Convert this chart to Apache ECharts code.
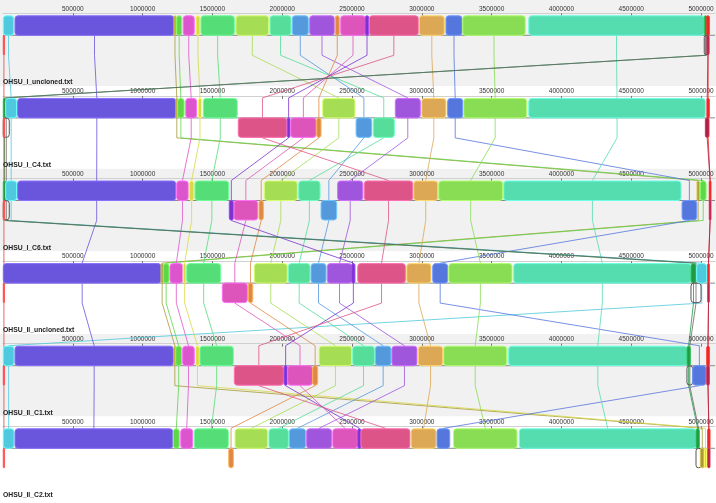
<!DOCTYPE html>
<html><head><meta charset="utf-8">
<script src="https://cdn.jsdelivr.net/npm/echarts@6/dist/echarts.min.js"></script>
<style>html,body{margin:0;padding:0;background:#fff}#c{width:716px;height:503px}</style>
</head><body><div id="c"></div>
<script>
const genomeNames = ['OHSU_I_uncloned.txt','OHSU_I_C4.txt','OHSU_I_C6.txt','OHSU_II_uncloned.txt','OHSU_II_C1.txt','OHSU_II_C2.txt'];
const tickValues = [500000,1000000,1500000,2000000,2500000,3000000,3500000,4000000,4500000,5000000];
const lcbIds = ['A','B','C','D','E','F','G','H','I','J','K','L','M','N','O','P','Q','R','S','T','U','V','W','X'];
const lcbColors = ['#4fc9dd','#6a55dd','#a89a3a','#5fd64a','#dd55cc','#d8d84a','#55dd77','#a5dd55','#55dd99','#5599dd','#a055dd','#dd8844','#dd55bb','#7a33cc','#dd5588','#dda855','#5577dd','#88dd55','#55ddb0','#229944','#ee2222','#dd4444','none','#aa2244'];

// [lcb, start, end, strand]
const g1Blocks = [['V',2000,11000,-1],['A',2000,77000,1],['B',86000,1225000,1],['C',1225000,1239000,1],['D',1244000,1280000,1],['E',1291000,1370000,1],['F',1382000,1411000,1],['G',1418000,1657000,1],['H',1669000,1903000,1],['I',1913000,2063000,1],['J',2072000,2187000,1],['K',2197000,2373000,1],['L',2380000,2409000,1],['M',2419000,2595000,1],['N',2595000,2620000,1],['O',2624000,2975000,1],['P',2982000,3161000,1],['Q',3173000,3288000,1],['R',3293000,3741000,1],['S',3766000,5023000,1],['T',5023000,5041000,1],['U',5041000,5059000,1],['W',5023000,5055000,-1],['X',5043000,5057000,-1]];
const g2Blocks = [['T',2000,19000,1],['A',19000,98000,1],['W',2000,45000,-1],['V',2000,11000,-1],['B',105000,1239000,1],['C',1239000,1251000,1],['D',1251000,1297000,1],['E',1309000,1387000,1],['F',1399000,1423000,1],['G',1435000,1678000,1],['O',1685000,2032000,-1],['N',2036000,2056000,-1],['M',2061000,2242000,-1],['L',2247000,2278000,-1],['H',2290000,2521000,1],['J',2529000,2641000,-1],['I',2652000,2803000,-1],['K',2810000,2989000,1],['P',2999000,3173000,1],['Q',3185000,3293000,1],['R',3300000,3751000,1],['S',3766000,5031000,1],['U',5043000,5059000,1],['X',5031000,5057000,-1]];
const g3Blocks = [['T',2000,19000,1],['A',19000,98000,1],['W',2000,45000,-1],['V',2000,11000,-1],['B',105000,1237000,1],['E',1244000,1327000,1],['F',1334000,1368000,1],['G',1375000,1617000,1],['N',1621000,1650000,-1],['M',1655000,1824000,-1],['L',1834000,1865000,-1],['H',1872000,2108000,1],['I',2118000,2271000,1],['J',2278000,2390000,-1],['K',2397000,2577000,1],['O',2588000,2935000,1],['P',2942000,3114000,1],['R',3121000,3579000,1],['S',3587000,4857000,1],['Q',4864000,4969000,-1],['C',4971000,4988000,1],['D',4995000,5036000,1],['U',5059000,5071000,1],['X',5059000,5071000,-1]];
const g4Blocks = [['V',2000,11000,-1],['B',2000,1132000,1],['C',1132000,1148000,1],['D',1148000,1189000,1],['E',1196000,1287000,1],['F',1291000,1311000,1],['G',1316000,1559000,1],['M',1571000,1750000,-1],['L',1757000,1789000,-1],['H',1800000,2036000,1],['I',2044000,2199000,1],['J',2206000,2314000,1],['K',2323000,2498000,1],['N',2498000,2521000,1],['O',2541000,2882000,1],['P',2892000,3066000,1],['Q',3078000,3185000,1],['R',3193000,3646000,1],['S',3658000,4928000,1],['T',4928000,4964000,1],['W',4928000,5000000,-1],['A',4969000,5041000,1],['U',5048000,5059000,1],['X',5048000,5059000,-1]];
const g5Blocks = [['V',2000,11000,-1],['A',2000,79000,1],['B',86000,1220000,1],['C',1225000,1237000,1],['D',1237000,1280000,1],['E',1287000,1370000,1],['F',1380000,1406000,1],['G',1411000,1650000,1],['O',1657000,2008000,-1],['N',2013000,2036000,-1],['M',2039000,2216000,-1],['L',2218000,2254000,-1],['H',2264000,2498000,1],['I',2505000,2660000,1],['J',2667000,2779000,1],['K',2786000,2965000,1],['P',2975000,3150000,1],['R',3157000,3608000,1],['S',3622000,4899000,1],['T',4899000,4923000,1],['W',4899000,4940000,-1],['Q',4940000,5036000,-1],['U',5041000,5059000,1],['X',5041000,5059000,-1]];
const g6Blocks = [['V',2000,11000,-1],['A',2000,79000,1],['B',86000,1216000,1],['D',1220000,1263000,1],['E',1273000,1359000,1],['G',1370000,1614000,1],['L',1617000,1650000,-1],['H',1662000,1896000,1],['I',1905000,2044000,1],['J',2051000,2168000,1],['K',2175000,2354000,1],['M',2362000,2538000,1],['N',2541000,2564000,1],['O',2564000,2915000,1],['P',2923000,3102000,1],['Q',3109000,3200000,1],['R',3228000,3682000,1],['S',3698000,4964000,1],['T',4964000,4988000,1],['W',4964000,5000000,-1],['C',4995000,5023000,-1],['F',5023000,5041000,-1],['U',5048000,5064000,1],['X',5048000,5064000,-1]];
const genomes = [g1Blocks,g2Blocks,g3Blocks,g4Blocks,g5Blocks,g6Blocks];

const AX_MAX = 5100000;
const TRACK_PX = 82.6, TOP0 = 3.5;
const CENTER = 0.385, HALF = 0.236, LH = 0.242;

const blockData = [];
genomes.forEach((g, t) => g.forEach(b => blockData.push([t, b[1], b[2], b[3], lcbIds.indexOf(b[0])])));
const lineData = lcbIds.map((id, li) => {
  const row = [li];
  for (const g of genomes) { const b = g.find(x => x[0] === id); row.push(b ? (b[1] + b[2]) / 2 : NaN); }
  return row;
});

function darker(c) { return echarts.color.lift(c, -0.3); }

const grids = [{left:3, right:1, top:TOP0, height:TRACK_PX*6, outerBoundsMode:'none'}];
const xAxes = [{gridIndex:0, type:'value', min:0, max:AX_MAX, show:false}];
const yAxes = [{gridIndex:0, type:'value', min:0, max:6, inverse:true, show:false}];
for (let i = 0; i < 6; i++) {
  grids.push({left:3, right:1, top:TOP0 + TRACK_PX*i - 0.2, height:10, outerBoundsMode:'none'});
  xAxes.push({gridIndex:i+1, type:'value', position:'top', min:0, max:AX_MAX, interval:500000,
    axisLine:{show:true, lineStyle:{color:'#d0d0d0', width:1}},
    axisTick:{show:true, inside:true, length:3, lineStyle:{color:'#777'}},
    axisLabel:{inside:true, margin:2, fontSize:6.5, color:'#333', fontFamily:'Liberation Sans',
      showMinLabel:false, showMaxLabel:false, formatter: v => tickValues.includes(v) ? String(v) : ''},
    splitLine:{show:false}});
  yAxes.push({gridIndex:i+1, type:'value', show:false, min:0, max:1});
}

const option = {
  animation:false,
  backgroundColor:'#ffffff',
  grid: grids, xAxis: xAxes, yAxis: yAxes,
  graphic: genomeNames.map((n, i) => ({type:'text', left:3, top: TOP0 + TRACK_PX*i + 75.5, z:20,
    style:{text:n, fill:'#222', fontSize:6.8, fontWeight:'bold', fontFamily:'Liberation Sans'}})),
  series: [
    { type:'custom', coordinateSystem:'cartesian2d', xAxisIndex:0, yAxisIndex:0, z:0, silent:true,
      data:[0,1,2,3,4,5].map(i => [i]),
      renderItem:(p, api) => {
        const i = api.value(0);
        const a = api.coord([-100000, i === 0 ? -0.1 : i]), b = api.coord([AX_MAX + 100000, i + 1]);
        return {type:'rect', shape:{x:a[0], y:a[1], width:b[0]-a[0], height:b[1]-a[1]},
          style:{fill: i % 2 === 0 ? '#f1f1f1' : '#ffffff'}};
      }},
    { type:'custom', coordinateSystem:'cartesian2d', xAxisIndex:0, yAxisIndex:0, z:1, silent:true,
      data: lineData,
      renderItem:(p, api) => {
        const li = api.value(0);
        const pts = [];
        for (let t = 0; t < 6; t++) {
          const x = api.value(1 + t); const c = t + CENTER;
          if (t === 0) { pts.push(api.coord([x, c]), api.coord([x, c + LH])); }
          else if (t === 5) { pts.push(api.coord([x, c - LH]), api.coord([x, c])); }
          else { pts.push(api.coord([x, c - LH]), api.coord([x, c + LH])); }
        }
        const col = lcbColors[li] === 'none' ? '#666' : lcbColors[li];
        return {type:'polyline', shape:{points:pts}, style:{stroke:col, lineWidth:1, fill:null, opacity:0.8}};
      }},
    { type:'custom', coordinateSystem:'cartesian2d', xAxisIndex:0, yAxisIndex:0, z:2, silent:true,
      data:[0,1,2,3,4,5].map(i => [i]),
      renderItem:(p, api) => {
        const c = api.value(0) + CENTER;
        const a = api.coord([0, c]), b = api.coord([AX_MAX, c]);
        return {type:'line', shape:{x1:a[0], y1:a[1], x2:b[0], y2:b[1]}, style:{stroke:'#8a8a8a', lineWidth:1}};
      }},
    { type:'custom', coordinateSystem:'cartesian2d', xAxisIndex:0, yAxisIndex:0, z:3, silent:true,
      data: blockData,
      renderItem:(p, api) => {
        const t = api.value(0), s = api.value(1), e = api.value(2), st = api.value(3), li = api.value(4);
        const c = t + CENTER;
        const y0 = st > 0 ? c - HALF : c, y1 = st > 0 ? c : c + HALF;
        const p0 = api.coord([s, y0]), p1 = api.coord([e, y1]);
        const x = Math.min(p0[0], p1[0]), y = Math.min(p0[1], p1[1]);
        const w = Math.max(Math.abs(p1[0]-p0[0]), 1), h = Math.abs(p1[1]-p0[1]);
        const col = lcbColors[li];
        const outline = col === 'none';
        return {type:'rect', shape:{x:x, y:y, width:w, height:h, r:Math.min(3, w/2)},
          style:{fill: outline ? 'rgba(0,0,0,0)' : col, stroke: outline ? '#555' : darker(col), lineWidth:1}};
      }}
  ]
};
const chart = echarts.init(document.getElementById('c'), null, {renderer:'canvas'});
chart.setOption(option);
</script></body></html>
